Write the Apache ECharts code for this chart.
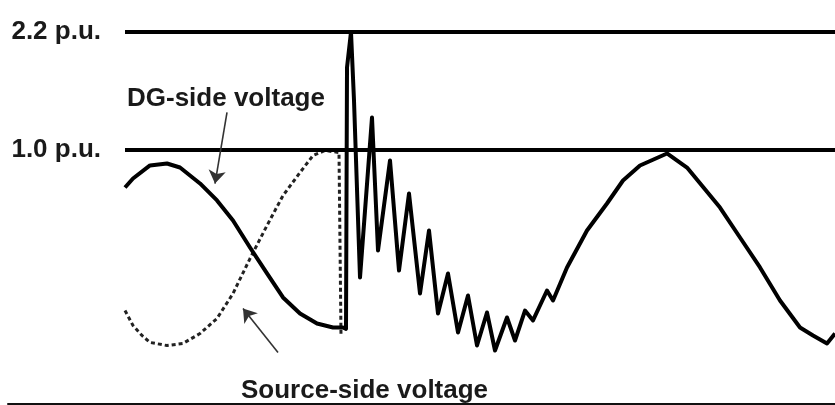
<!DOCTYPE html>
<html>
<head>
<meta charset="utf-8">
<script src="https://cdn.jsdelivr.net/npm/echarts@6/dist/echarts.min.js"></script>
<style>
html,body{margin:0;padding:0;background:#fff;}
#chart{width:835px;height:405px;}
</style>
</head>
<body>
<div id="chart"></div>
<script>
// time in ms, voltage in p.u.
const dgTime = [0,0.32,1.0,1.68,2.2,3.0,3.68,4.32,5.0,5.68,6.32,7.0,7.68,8.32,8.72,8.84,8.88,9.04,9.16,9.4,9.88,10.12,10.6,10.96,11.36,11.8,12.16,12.52,12.92,13.32,13.72,14.08,14.48,14.8,15.28,15.6,16.0,16.32,16.88,17.12,17.68,18.48,19.28,19.92,20.6,21.68,22.48,23.8,24.6,25.4,26.2,27.0,27.52,28.08,28.4];
const dgVoltage = [0.618,0.709,0.842,0.862,0.821,0.659,0.486,0.282,0.007,-0.257,-0.501,-0.664,-0.766,-0.807,-0.807,-0.82,1.839,2.2,1.503,-0.298,1.33,-0.023,0.893,-0.227,0.557,-0.461,0.18,-0.664,-0.257,-0.857,-0.481,-0.99,-0.654,-1.041,-0.705,-0.939,-0.634,-0.735,-0.43,-0.532,-0.196,0.18,0.455,0.689,0.842,0.964,0.821,0.414,0.109,-0.196,-0.532,-0.807,-0.888,-0.969,-0.868];
const srcTime = [0,0.32,0.68,1.0,1.68,2.32,3.0,3.68,4.32,5.0,5.68,6.32,7.0,7.52,8.0,8.56,8.64];
const srcVoltage = [-0.634,-0.786,-0.888,-0.959,-0.99,-0.969,-0.868,-0.715,-0.461,-0.105,0.231,0.536,0.77,0.943,0.994,0.974,-0.888];
const refLevels = [2.2, 1.0];
const refLabels = ['2.2 p.u.', '1.0 p.u.'];
const annotationTexts = ['DG-side voltage', 'Source-side voltage'];

const FONT = '"Liberation Sans", Arial, sans-serif';
const tEnd = 28.4;

const chart = echarts.init(document.getElementById('chart'), null, {renderer: 'canvas'});
const zip = (a, b) => a.map((v, i) => [v, b[i]]);

chart.setOption({
  animation: false,
  backgroundColor: '#fff',
  grid: {left: 8, right: 0, top: 2.5, bottom: 1.5},
  xAxis: {
    type: 'value', min: -4.68, max: tEnd,
    axisLine: {show: true, onZero: false, lineStyle: {color: '#111', width: 2}},
    axisTick: {show: false}, axisLabel: {show: false}, splitLine: {show: false}
  },
  yAxis: {
    type: 'value', min: -1.58, max: 2.5,
    axisLine: {show: false}, axisTick: {show: false}, axisLabel: {show: false}, splitLine: {show: false}
  },
  series: [
    {
      name: 'Source-side voltage', type: 'line', data: zip(srcTime, srcVoltage),
      showSymbol: false, symbol: 'none', z: 2,
      lineStyle: {color: '#222', width: 3, type: [4, 3]}
    },
    {
      name: 'DG-side voltage', type: 'line', data: zip(dgTime, dgVoltage),
      showSymbol: false, symbol: 'none', z: 3,
      lineStyle: {color: '#000', width: 4, join: 'round'},
      markLine: {
        silent: true, symbol: ['none', 'none'], animation: false,
        lineStyle: {color: '#000', width: 4, type: 'solid'},
        label: {
          show: true, position: 'start', distance: 24,
          fontFamily: FONT, fontWeight: 'bold', fontSize: 26, color: '#1a1a1a'
        },
        data: refLevels.map((lv, i) => [
          {coord: [0, lv], label: {formatter: refLabels[i]}},
          {coord: [tEnd, lv]}
        ])
      }
    },
    {
      name: 'annotations', type: 'line', data: [], z: 4,
      markLine: {
        silent: true, symbol: ['none', 'arrow'], symbolSize: 13, animation: false,
        itemStyle: {color: '#333'},
        lineStyle: {color: '#333', width: 1.6, type: 'solid'},
        label: {show: false},
        data: [
          [{coord: [4.08, 1.381]}, {coord: [3.6, 0.658]}],
          [{coord: [6.12, -1.061]}, {coord: [4.72, -0.613]}]
        ]
      }
    }
  ],
  graphic: [
    {type: 'text', x: 127, y: 99, z: 10,
     style: {text: annotationTexts[0], font: 'bold 26px ' + FONT, fill: '#1a1a1a', verticalAlign: 'middle'}},
    {type: 'text', x: 241, y: 391, z: 10,
     style: {text: annotationTexts[1], font: 'bold 26px ' + FONT, fill: '#1a1a1a', verticalAlign: 'middle'}}
  ]
});
</script>
</body>
</html>
